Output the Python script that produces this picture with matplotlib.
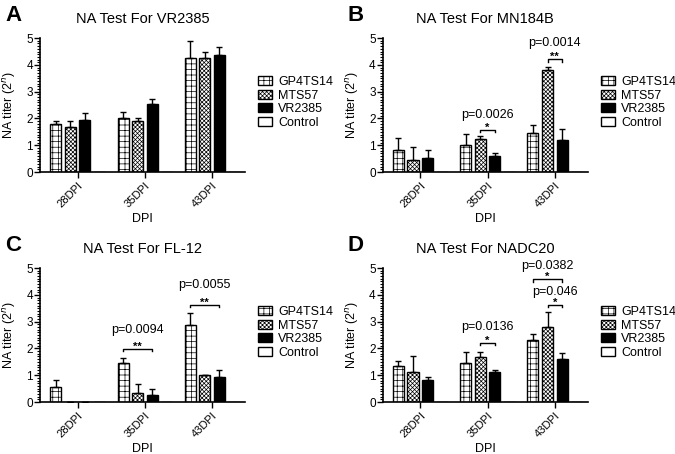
import numpy as np
import matplotlib
matplotlib.use("Agg")
import matplotlib.pyplot as plt
from matplotlib.patches import Patch
from matplotlib.ticker import MultipleLocator

plt.rcParams['font.family'] = ['Liberation Sans', 'DejaVu Sans']
plt.rcParams['hatch.linewidth'] = 0.5

groups = ['28DPI', '35DPI', '43DPI']
series = ['GP4TS14', 'MTS57', 'VR2385', 'Control']

# panel A - VR2385
a_mean = [[1.79, 2.01, 4.25], [1.69, 1.92, 4.25], [1.95, 2.54, 4.37], [0, 0, 0]]
a_err = [[0.13, 0.22, 0.63], [0.20, 0.11, 0.23], [0.25, 0.20, 0.29], [0, 0, 0]]
# panel B - MN184B
b_mean = [[0.81, 1.02, 1.47], [0.46, 1.24, 3.81], [0.52, 0.61, 1.19], [0, 0, 0]]
b_err = [[0.45, 0.39, 0.28], [0.46, 0.12, 0.10], [0.29, 0.10, 0.40], [0, 0, 0]]
# panel C - FL-12
c_mean = [[0.56, 1.45, 2.89], [0, 0.35, 1.0], [0, 0.27, 0.93], [0, 0, 0]]
c_err = [[0.28, 0.21, 0.42], [0, 0.32, 0], [0, 0.23, 0.27], [0, 0, 0]]
# panel D - NADC20
d_mean = [[1.35, 1.46, 2.33], [1.12, 1.68, 2.79], [0.84, 1.11, 1.60], [0, 0, 0]]
d_err = [[0.18, 0.39, 0.20], [0.58, 0.18, 0.57], [0.10, 0.08, 0.24], [0, 0, 0]]

# significance: (group, bar1, bar2, bracket y, stars, p label, label y)
b_sig = [(1, 1, 2, 1.58, '*', 'p=0.0026', 2.14),
         (2, 1, 2, 4.22, '**', 'p=0.0014', 4.81)]
c_sig = [(1, 0, 2, 1.99, '**', 'p=0.0094', 2.67),
         (2, 0, 2, 3.64, '**', 'p=0.0055', 4.38)]
d_sig = [(1, 1, 2, 2.21, '*', 'p=0.0136', 2.80),
         (2, 1, 2, 3.63, '*', 'p=0.046', 4.10),
         (2, 0, 2, 4.59, '*', 'p=0.0382', 5.09)]

styles = [dict(facecolor='white', hatch='+++'),
          dict(facecolor='white', hatch='xxxxxxxx'),
          dict(facecolor='black', hatch=None),
          dict(facecolor='white', hatch=None)]

pitch = 0.216
width = 0.164
offsets = (np.arange(4) - 1.5) * pitch


def draw_panel(ax, letter, title, means, errs, sigs):
    x = np.arange(len(groups))
    for k in range(4):
        ax.bar(x + offsets[k], means[k], width, edgecolor='black', linewidth=1,
               zorder=2, **styles[k])
        if k < 3:
            e = np.array(errs[k])
            ax.errorbar(x + offsets[k], means[k], yerr=[np.zeros_like(e), e],
                        fmt='none', ecolor='black', elinewidth=1, capsize=2.5,
                        capthick=1, zorder=3)
    for (g, i, j, y, stars, ptxt, py) in sigs:
        x1 = g + offsets[i]
        x2 = g + offsets[j]
        ax.plot([x1, x1, x2, x2], [y - 0.1, y, y, y - 0.1], color='black',
                linewidth=1, clip_on=False)
        ax.text((x1 + x2) / 2, y - 0.04, stars, ha='center', va='baseline',
                fontsize=8, fontweight='bold', clip_on=False)
        ax.text((x1 + x2) / 2, py, ptxt, ha='center', va='center', fontsize=9,
                clip_on=False)

    ax.set_xlim(-0.558, 2.49)
    ax.set_ylim(0, 5)
    ax.set_xticks(x)
    ax.set_xticklabels(groups, rotation=45, ha='right', rotation_mode='anchor',
                       fontsize=8)
    ax.yaxis.set_major_locator(MultipleLocator(1))
    ax.yaxis.set_minor_locator(MultipleLocator(0.1))
    ax.tick_params(axis='y', which='major', length=4, width=1, labelsize=8.5, pad=1)
    ax.tick_params(axis='y', which='minor', length=2, width=0.8)
    ax.tick_params(axis='x', length=4, width=1, pad=2)
    for s in ['top', 'right']:
        ax.spines[s].set_visible(False)
    for s in ['left', 'bottom']:
        ax.spines[s].set_linewidth(1.2)
    ax.set_xlabel('DPI', fontsize=9, labelpad=3)
    ax.set_ylabel('NA titer (2$^{n}$)', fontsize=9, labelpad=6)
    ax.set_title(title, fontsize=10.5, pad=11)
    ax.text(-0.17, 1.17, letter, transform=ax.transAxes, fontsize=16,
            fontweight='bold', ha='left', va='center')

    handles = [Patch(edgecolor='black', linewidth=1, **styles[k]) for k in range(4)]
    ax.legend(handles, series, loc='center left', bbox_to_anchor=(1.01, 0.52),
              frameon=False, fontsize=9, handlelength=1.1, handleheight=0.75,
              labelspacing=0.12, handletextpad=0.5)


fig = plt.figure(figsize=(6.75, 4.54), dpi=100)
axA = fig.add_axes([0.0593, 0.621, 0.3037, 0.295])
axB = fig.add_axes([0.567, 0.621, 0.3037, 0.295])
axC = fig.add_axes([0.0593, 0.1145, 0.3037, 0.295])
axD = fig.add_axes([0.567, 0.1145, 0.3037, 0.295])

draw_panel(axA, 'A', 'NA Test For VR2385', a_mean, a_err, [])
draw_panel(axB, 'B', 'NA Test For MN184B', b_mean, b_err, b_sig)
draw_panel(axC, 'C', 'NA Test For FL-12', c_mean, c_err, c_sig)
draw_panel(axD, 'D', 'NA Test For NADC20', d_mean, d_err, d_sig)

fig.savefig('out.png', dpi=100)
